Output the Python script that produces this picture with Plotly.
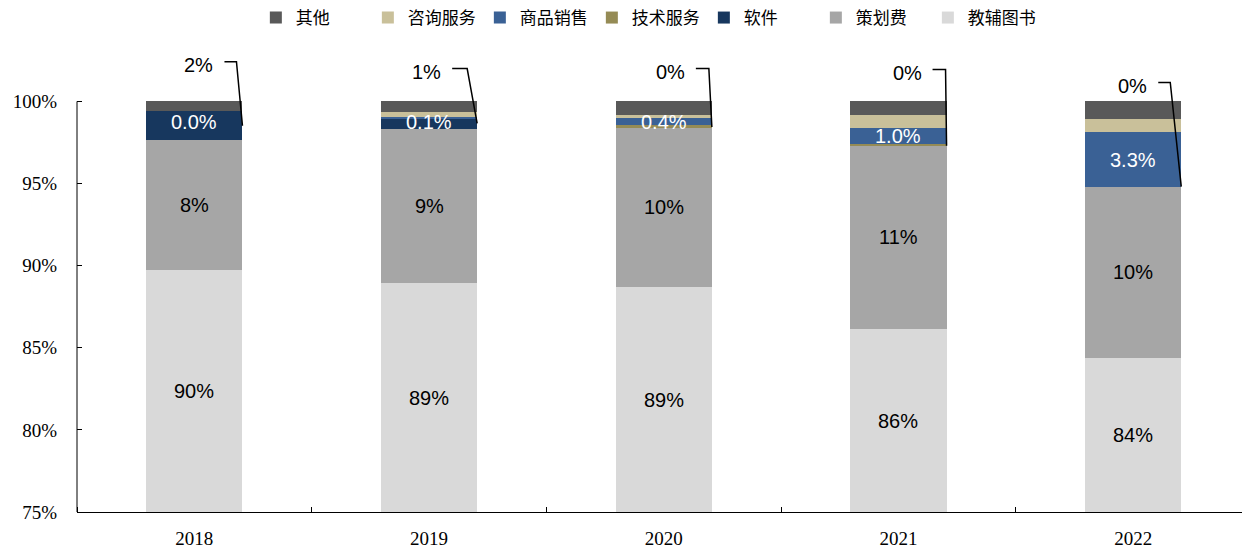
import plotly.graph_objects as go

# ---------------- data (percent of revenue) ----------------
years = ["2018", "2019", "2020", "2021", "2022"]
jiaofu_tushu = [89.71, 88.92, 88.68, 86.14, 84.38]   # 教辅图书
cehua_fei = [7.93, 9.43, 9.76, 11.16, 10.43]         # 策划费
ruanjian = [1.76, 0.62, 0.0, 0.0, 0.0]               # 软件
jishu_fuwu = [0.0, 0.0, 0.12, 0.10, 0.0]             # 技术服务
shangpin_xiaoshou = [0.0, 0.10, 0.40, 1.00, 3.30]    # 商品销售
zixun_fuwu = [0.0, 0.28, 0.24, 0.75, 0.80]           # 咨询服务
qita = [0.60, 0.65, 0.80, 0.85, 1.09]                # 其他

y_ticks = [75, 80, 85, 90, 95, 100]
y_tick_labels = [f"{v}%" for v in y_ticks]

# ---------------- styling / layout constants ----------------
BAR_W = 0.41
Y_MIN, Y_TOP = 75, 100
PX_PER_PCT = 16.52
PLOT_H = 515
Y_MAX = Y_MIN + PLOT_H / PX_PER_PCT
LABEL_FONT = dict(family="Liberation Sans, Arial", size=20, color="black")

series = [
    ("教辅图书", jiaofu_tushu, "#D9D9D9"),
    ("策划费", cehua_fei, "#A6A6A6"),
    ("软件", ruanjian, "#17375E"),
    ("技术服务", jishu_fuwu, "#958B55"),
    ("商品销售", shangpin_xiaoshou, "#3A6195"),
    ("咨询服务", zixun_fuwu, "#C9C09A"),
    ("其他", qita, "#595959"),
]

xs = list(range(len(years)))
fig = go.Figure()
for name, vals, col in series:
    fig.add_trace(go.Bar(
        x=xs, y=vals, name=name, width=BAR_W,
        marker=dict(color=col, line=dict(width=0)),
        hoverinfo="skip",
    ))

annotations = []
# cumulative bases
base_cehua = jiaofu_tushu
base_soft = [a + b for a, b in zip(jiaofu_tushu, cehua_fei)]
base_shangpin = [a + b + c for a, b, c in zip(base_soft, ruanjian, jishu_fuwu)]

for i in xs:
    # 教辅图书 label: centre of visible part
    annotations.append(dict(x=i, y=(Y_MIN + jiaofu_tushu[i]) / 2, xref="x", yref="y",
                            text=f"{jiaofu_tushu[i]:.0f}%", showarrow=False, font=LABEL_FONT))
    # 策划费 label
    annotations.append(dict(x=i, y=base_cehua[i] + cehua_fei[i] / 2, xref="x", yref="y",
                            text=f"{cehua_fei[i]:.0f}%", showarrow=False, font=LABEL_FONT))
    # 商品销售 label (white)
    yc = min(base_shangpin[i] + shangpin_xiaoshou[i] / 2, 98.77)
    annotations.append(dict(x=i, y=yc, xref="x", yref="y",
                            text=f"{shangpin_xiaoshou[i]:.1f}%", showarrow=False,
                            font=dict(family="Liberation Sans, Arial", size=20, color="white")))

# 软件 callouts with elbow leader lines
callout_dx_start = [-0.0767, -0.1065, -0.0682, -0.0597, -0.0980]
callout_dx_elbow = [-0.0256, -0.0426, -0.0128, -0.0043, -0.0469]
callout_y = [102.42, 102.0, 102.0, 101.94, 101.15]

lx, ly = [], []
for i in xs:
    right = i + BAR_W / 2
    ctr = base_soft[i] + ruanjian[i] / 2
    lx += [right + callout_dx_start[i], right + callout_dx_elbow[i], right, None]
    ly += [callout_y[i], callout_y[i], ctr, None]
    annotations.append(dict(x=right + callout_dx_start[i], y=callout_y[i], xref="x", yref="y",
                            text=f"{ruanjian[i]:.0f}%", showarrow=False, xanchor="right",
                            xshift=-9, yshift=-3, font=LABEL_FONT))

fig.add_trace(go.Scatter(x=lx, y=ly, mode="lines", line=dict(color="black", width=1.5),
                         showlegend=False, hoverinfo="skip", cliponaxis=False))

fig.update_layout(
    width=1242, height=549,
    margin=dict(l=77, r=0, t=0, b=34),
    barmode="stack",
    paper_bgcolor="white", plot_bgcolor="white",
    showlegend=True,
    legend=dict(orientation="h", x=0.49, xanchor="center", y=(PLOT_H - 18) / PLOT_H,
                yanchor="middle", traceorder="reversed",
                font=dict(family="Noto Sans CJK SC", size=17, color="black"),
                entrywidth=67, itemwidth=30, bgcolor="rgba(0,0,0,0)"),
    annotations=annotations,
    shapes=[dict(type="line", xref="paper", yref="y", x0=0, x1=0, y0=Y_MIN, y1=Y_TOP,
                 line=dict(color="black", width=1))],
)

fig.update_xaxes(
    range=[-0.5, -0.5 + 1165 / 234.7],
    tickmode="array", tickvals=xs, ticktext=years,
    ticks="", showgrid=False, zeroline=False,
    showline=True, linecolor="black", linewidth=1,
    tickfont=dict(family="Liberation Serif, Times New Roman", size=19, color="black"),
    ticklabelstandoff=9,
    minor=dict(tickmode="linear", tick0=0.5, dtick=1, ticks="inside", ticklen=5,
               tickcolor="black", tickwidth=1, showgrid=False),
)
fig.update_yaxes(
    range=[Y_MIN, Y_MAX],
    tickmode="array", tickvals=y_ticks, ticktext=y_tick_labels,
    ticks="inside", ticklen=5, tickcolor="black", tickwidth=1,
    showgrid=False, zeroline=False, showline=False,
    tickfont=dict(family="Liberation Serif, Times New Roman", size=19, color="black"),
    ticklabelstandoff=19,
)

fig.write_html("out.html")
